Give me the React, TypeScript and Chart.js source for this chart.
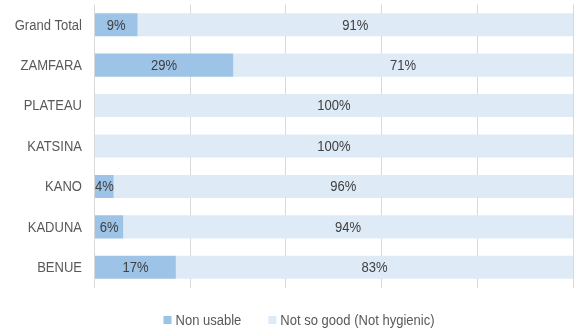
import React, { useEffect, useRef } from "react";
import { Chart, registerables } from "chart.js";

Chart.register(...registerables);

const categories = ["Grand Total", "ZAMFARA", "PLATEAU", "KATSINA", "KANO", "KADUNA", "BENUE"];
const nonUsable = [9, 29, 0, 0, 4, 6, 17];
const notSoGood = [91, 71, 100, 100, 96, 94, 83];
const seriesNames = ["Non usable", "Not so good (Not hygienic)"];
const seriesColors = ["#9DC3E6", "#DEEBF7"];

const FONT = "'Liberation Sans', Arial, sans-serif";
const FONT_SIZE = 14;
const SX = 0.93;

function drawText(ctx: any, text: string, x: number, y: number, align: "left" | "right" | "center") {
  ctx.save();
  ctx.translate(x, y);
  ctx.scale(SX, 1);
  ctx.textAlign = align;
  ctx.fillText(text, 0, 0);
  ctx.restore();
}

const textPlugin = {
  id: "customText",
  afterDatasetsDraw(chart: any) {
    const ctx = chart.ctx;
    ctx.save();
    ctx.font = `${FONT_SIZE}px ${FONT}`;
    ctx.textBaseline = "middle";
    // segment labels
    ctx.fillStyle = "#404040";
    chart.data.datasets.forEach((ds: any, di: number) => {
      const meta = chart.getDatasetMeta(di);
      meta.data.forEach((el: any, i: number) => {
        const v = ds.data[i];
        if (!v) return;
        drawText(ctx, v + "%", (el.x + el.base) / 2, el.y + 1, "center");
      });
    });
    // category labels
    ctx.fillStyle = "#595959";
    const yScale = chart.scales.y;
    chart.data.labels.forEach((lab: string, i: number) => {
      drawText(ctx, lab, chart.chartArea.left - 12.5, yScale.getPixelForValue(i) + 1, "right");
    });
    // legend
    const items = chart.data.datasets.map((ds: any) => ({
      label: ds.label,
      color: ds.backgroundColor,
      w: ctx.measureText(ds.label).width * SX,
    }));
    const box = 8;
    const gapBox = 4;
    const gapItem = 27;
    let total = 0;
    items.forEach((it: any, k: number) => {
      total += box + gapBox + it.w + (k < items.length - 1 ? gapItem : 0);
    });
    let x = 299 - total / 2;
    const ly = 320;
    items.forEach((it: any) => {
      ctx.fillStyle = it.color;
      ctx.fillRect(x, ly - 4, box, box);
      x += box + gapBox;
      ctx.fillStyle = "#595959";
      drawText(ctx, it.label, x, ly + 1, "left");
      x += it.w + gapItem;
    });
    ctx.restore();
  },
};

export default function App() {
  const ref = useRef<HTMLCanvasElement | null>(null);
  useEffect(() => {
    if (!ref.current) return;
    const chart = new Chart(ref.current, {
      type: "bar",
      data: {
        labels: categories,
        datasets: [
          { label: seriesNames[0], data: nonUsable, backgroundColor: seriesColors[0], categoryPercentage: 1, barPercentage: 0.57 },
          { label: seriesNames[1], data: notSoGood, backgroundColor: seriesColors[1], categoryPercentage: 1, barPercentage: 0.57 },
        ],
      },
      options: {
        indexAxis: "y",
        animation: false,
        responsive: false,
        maintainAspectRatio: false,
        layout: { padding: { top: 4.5, right: 1, left: 0, bottom: 44.5 } },
        scales: {
          x: {
            stacked: true,
            min: 0,
            max: 100,
            ticks: { display: false, stepSize: 20 },
            grid: { color: "#D9D9D9", drawTicks: false },
            border: { display: false },
            afterFit: (s: any) => { s.height = 0; s.paddingLeft = 0; s.paddingRight = 0; },
          },
          y: {
            stacked: true,
            ticks: { display: false },
            grid: { display: false, drawTicks: false },
            border: { display: false },
            afterFit: (s: any) => { s.width = 94.5; s.paddingTop = 0; s.paddingBottom = 0; },
          },
        },
        plugins: {
          legend: { display: false },
          tooltip: { enabled: false },
        },
      },
      plugins: [textPlugin],
    });
    return () => chart.destroy();
  }, []);
  return (
    <div style={{ position: "fixed", left: 0, top: 0, width: 574, height: 332, background: "#fff" }}>
      <canvas ref={ref} width={574} height={332} style={{ width: 574, height: 332 }} />
    </div>
  );
}
